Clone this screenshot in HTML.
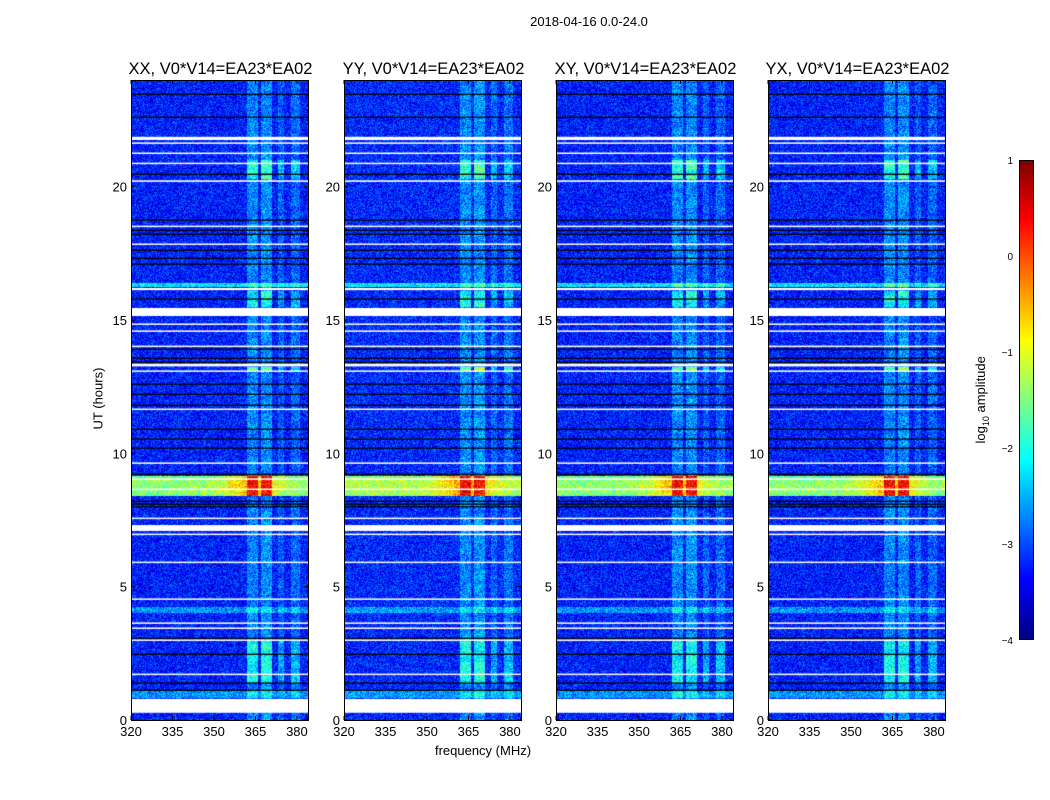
<!DOCTYPE html>
<html><head><meta charset="utf-8">
<style>
body{margin:0;background:#fff;font-family:"Liberation Sans",sans-serif;}
#root{position:relative;width:1050px;height:800px;overflow:hidden;background:#fff;}
.t{position:absolute;white-space:nowrap;color:#000;}
</style></head>
<body>
<div id="root">
<div class="t" style="left:489px;top:14px;width:200px;text-align:center;font-size:13px;">2018-04-16 0.0-24.0</div>
<div class="t" style="left:48px;top:391px;width:100px;text-align:center;font-size:13px;transform:rotate(-90deg);">UT (hours)</div>
<div class="t" style="left:383px;top:743px;width:200px;text-align:center;font-size:13px;">frequency (MHz)</div>
<svg id="svg" width="1050" height="800" style="position:absolute;left:0;top:0"></svg>
<div style="position:absolute;left:1019px;top:160px;width:15px;height:480px;border:1px solid #000;box-sizing:border-box;background:linear-gradient(to top,#00007f 0%,#0000ff 12.5%,#00ffff 37.5%,#ffff00 62.5%,#ff0000 87.5%,#7f0000 100%);"></div>
<div class="t" style="left:922px;top:391px;width:120px;text-align:center;font-size:13px;transform:rotate(-90deg);">log<sub style="font-size:9px">10</sub> amplitude</div>
</div>
<script>
// ---- data ----
const panelTitles = ["XX, V0*V14=EA23*EA02","YY, V0*V14=EA23*EA02","XY, V0*V14=EA23*EA02","YX, V0*V14=EA23*EA02"];
const xTicks = [320,335,350,365,380];
const yTicks = [0,5,10,15,20];
const cbTicks = [1,0,-1,-2,-3,-4];
const cbLabels = ["1","0","\u22121","\u22122","\u22123","\u22124"];
const flaggedWhite = [[21.75,21.87],[21.62,21.66],[21.24,21.28],[20.86,20.9],[20.18,20.24],[18.5,18.54],[17.83,17.87],[16.12,16.2],[15.15,15.45],[14.83,14.87],[14.57,14.61],[14.0,14.04],[13.26,13.36],[13.07,13.11],[11.64,11.68],[9.62,9.66],[9.02,9.06],[8.64,8.68],[7.55,7.59],[7.09,7.31],[6.95,6.99],[5.9,5.94],[4.52,4.56],[3.62,3.66],[3.43,3.47],[2.98,3.02],[1.7,1.74],[0.27,0.79]];
const blackLines = [23.47,22.61,20.47,18.75,18.37,18.22,17.62,17.32,17.1,15.79,13.91,13.57,13.42,12.6,12.22,11.81,10.91,10.54,10.2,9.22,8.21,8.1,8.0,3.07,2.47,1.39,1.12];
const rowBoost = [[16.22,16.4,1.0],[4.0,4.25,0.6],[0.82,1.1,0.6]];
const rfiRange = [8.4,9.15];
const rfiLevel = [-1.7,-1.55,-1.7,-1.7];
const bandRanges = [[362,366],[367,371],[373,375.5],[378,381]];
const bandGain = [1.0,1.1,0.6,0.7];
const bandActive = [[20.3,21.0,1.5],[15.5,16.1,1.3],[1.4,3.0,1.3],[13.1,13.25,1.8]];
const baseLevel = [-3.25,-3.2,-3.25,-3.25];
const panelLeft = [131,344,556,768];
// ---- layout ----
const PW=177, PT=80, PH=640, FMIN=320, FMAX=384, HMAX=24;
const fx=(f,i)=>panelLeft[i]+(f-FMIN)/(FMAX-FMIN)*PW;
const hy=h=>PT+PH-h/HMAX*PH;
function jet(t){t=Math.max(0,Math.min(1,t));
 const r=Math.max(0,Math.min(1,1.5-Math.abs(4*t-3)));
 const g=Math.max(0,Math.min(1,1.5-Math.abs(4*t-2)));
 const b=Math.max(0,Math.min(1,1.5-Math.abs(4*t-1)));
 return [r*255|0,g*255|0,b*255|0];}
function hash(x,y,s){let n=x*374761393+y*668265263+s*1442695041;n=(n^(n>>13))*1274126177;n=n^(n>>16);return ((n>>>0)%10000)/10000;}
const root=document.getElementById('root');
const svg=document.getElementById('svg');
const NS="http://www.w3.org/2000/svg";
for(let i=0;i<4;i++){
 const c=document.createElement('canvas');
 c.width=PW;c.height=PH;
 c.style.cssText=`position:absolute;left:${panelLeft[i]}px;top:${PT}px;`;
 
 
 root.insertBefore(c,svg);
 const ctx=c.getContext('2d');const img=ctx.createImageData(PW,PH);
 for(let py=0;py<PH;py++){
  const h=(PH-py-0.5)/PH*HMAX;
  let rb=0;for(const r of rowBoost) if(h>=r[0]&&h<=r[1]) rb=Math.max(rb,r[2]);
  let act=0.6;for(const a of bandActive) if(h>=a[0]&&h<=a[1]) act=Math.max(act,a[2]);
  const rfi=(h>=rfiRange[0]&&h<=rfiRange[1]);
  const rc=(rfiRange[0]+rfiRange[1])/2, rw=(rfiRange[1]-rfiRange[0])/2;
  for(let px=0;px<PW;px++){
   const f=FMIN+(px+0.5)/PW*(FMAX-FMIN);
   let v=baseLevel[i]+rb;
   if(rfi){
     const prof=1-Math.pow((h-rc)/rw,2)*0.6;
     v=rfiLevel[i]+0.3*prof+0.9*Math.exp(-Math.pow((f-364)/10,2));
     for(let k=0;k<2;k++){const b=bandRanges[k];if(f>=b[0]&&f<=b[1]) v=0.35;}
   } else {
     for(let k=0;k<bandRanges.length;k++){const b=bandRanges[k];if(f>=b[0]&&f<=b[1]) v+= bandGain[k]*act*(0.7+0.3*hash(k,Math.floor(py/6),i+7));}
   }
   v+=(hash(px,py,i)-0.5)*1.0;
   const [r,g,bb]=jet((v+4)/5);const o=(py*PW+px)*4;
   img.data[o]=r;img.data[o+1]=g;img.data[o+2]=bb;img.data[o+3]=255;
  }
 }
 ctx.putImageData(img,0,0);
 ctx.fillStyle='#fff';
 for(const w of flaggedWhite){const y1=PH-w[1]/HMAX*PH,y2=PH-w[0]/HMAX*PH;ctx.fillRect(0,y1,PW,Math.max(1.5,y2-y1));}
 ctx.fillStyle='#000';
 for(const l of blackLines){ctx.fillRect(0,PH-l/HMAX*PH-0.5,PW,1.3);}
 const fr=document.createElementNS(NS,'rect');
 fr.setAttribute('x',panelLeft[i]+0.5);fr.setAttribute('y',PT+0.5);fr.setAttribute('width',PW);fr.setAttribute('height',PH);
 fr.setAttribute('fill','none');fr.setAttribute('stroke','#000');
 
 
 svg.appendChild(fr);
 const tt=document.createElementNS(NS,'text');
 tt.setAttribute('x',panelLeft[i]+PW/2+1);tt.setAttribute('y',74);tt.setAttribute('text-anchor','middle');
 tt.setAttribute('font-size','16.5');tt.setAttribute('font-family','Liberation Sans, sans-serif');
 tt.textContent=panelTitles[i];
 
 
 svg.appendChild(tt);
 for(const f of xTicks){const x=fx(f,i);
  for(const [y1,y2] of [[PT+PH,PT+PH-4],[PT,PT+4]]){const l=document.createElementNS(NS,'line');
   l.setAttribute('x1',x);l.setAttribute('x2',x);l.setAttribute('y1',y1);l.setAttribute('y2',y2);l.setAttribute('stroke','#000');
   
   
   svg.appendChild(l);}
  const t=document.createElementNS(NS,'text');t.setAttribute('x',x);t.setAttribute('y',PT+PH+16);
  t.setAttribute('text-anchor','middle');t.setAttribute('font-size','13');t.setAttribute('font-family','Liberation Sans, sans-serif');
  t.textContent=f;
  
  
  svg.appendChild(t);}
 for(const h of yTicks){const y=hy(h);
  for(const [x1,x2] of [[panelLeft[i],panelLeft[i]+4],[panelLeft[i]+PW,panelLeft[i]+PW-4]]){const l=document.createElementNS(NS,'line');
   l.setAttribute('x1',x1);l.setAttribute('x2',x2);l.setAttribute('y1',y);l.setAttribute('y2',y);l.setAttribute('stroke','#000');
   
   
   svg.appendChild(l);}
  const t=document.createElementNS(NS,'text');t.setAttribute('x',panelLeft[i]-4);t.setAttribute('y',y+5);
  t.setAttribute('text-anchor','end');t.setAttribute('font-size','13');t.setAttribute('font-family','Liberation Sans, sans-serif');
  t.textContent=h;
  
  
  svg.appendChild(t);}
}
cbTicks.forEach((v,k)=>{const y=160+(1-v)/5*480;
 const t=document.createElementNS(NS,'text');t.setAttribute('x',1013);t.setAttribute('y',y+4);
 t.setAttribute('text-anchor','end');t.setAttribute('font-size','10');t.setAttribute('font-family','Liberation Sans, sans-serif');
 t.textContent=cbLabels[k];
 
 
 svg.appendChild(t);});
</script>
</body></html>
